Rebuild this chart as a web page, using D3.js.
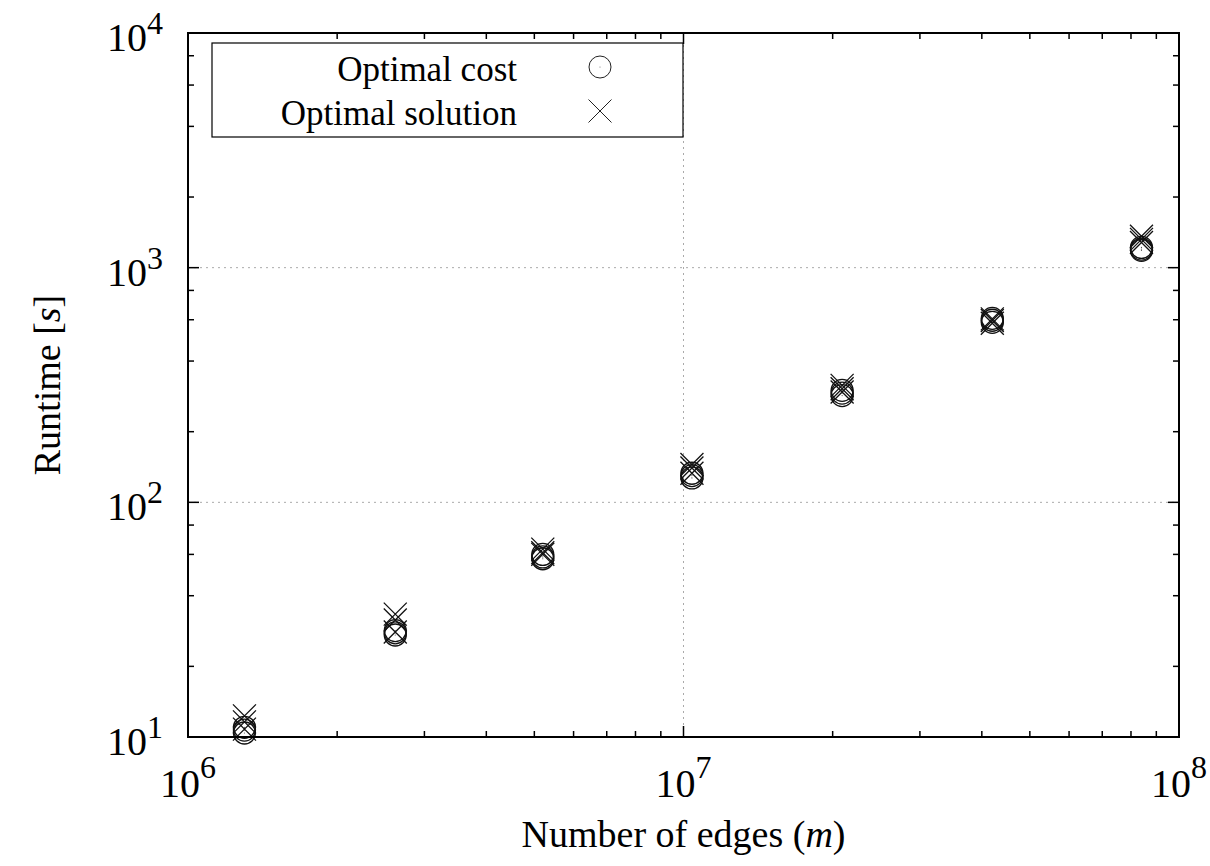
<!DOCTYPE html>
<html><head><meta charset="utf-8">
<script src="https://cdn.jsdelivr.net/npm/d3@7/dist/d3.min.js"></script>
<style>
html,body{margin:0;padding:0;background:#fff;}
svg{display:block;font-family:"Liberation Serif","Times New Roman",serif;}
</style></head>
<body>
<svg id="chart" width="1210" height="866"></svg>
<script>
// ---- data ----
const edges = [1.30e6, 2.62e6, 5.20e6, 1.04e7, 2.09e7, 4.20e7, 8.40e7];
// several runs per instance (overlapping markers)
const costRun1 = [10.4, 27.2, 57.5, 127, 285, 585, 1185];
const costRun2 = [10.7, 27.8, 58.5, 130, 292, 597, 1200];
const costRun3 = [11.0, 28.4, 60.0, 133, 300, 608, 1220];
const solRun1  = [10.8, 28.0, 60.0, 133, 295, 580, 1280];
const solRun2  = [11.6, 31.5, 61.0, 140, 305, 595, 1320];
const solRun3  = [12.3, 33.4, 63.2, 145, 315, 605, 1360];
const xMajor = [1e6, 1e7, 1e8];
const yMajor = [1e1, 1e2, 1e3, 1e4];
const xExp = ["6", "7", "8"];
const yExp = ["1", "2", "3", "4"];
const legendLabels = ["Optimal cost", "Optimal solution"];

// ---- layout ----
const svg = d3.select("#chart");
const L = 188, R = 1179, T = 33, B = 737;
const x = d3.scaleLog().domain([1e6, 1e8]).range([L, R]);
const y = d3.scaleLog().domain([1e1, 1e4]).range([B, T]);

// gridlines (dotted) at interior majors
const g = svg.append("g");
g.selectAll("line.gx").data(xMajor.filter(v => v > 1e6 && v < 1e8)).enter().append("line")
  .attr("x1", d => x(d)).attr("x2", d => x(d)).attr("y1", T).attr("y2", B)
  .attr("stroke", "#aaa").attr("stroke-width", 1).attr("stroke-dasharray", "2,4");
g.selectAll("line.gy").data(yMajor.filter(v => v > 1e1 && v < 1e4)).enter().append("line")
  .attr("y1", d => y(d)).attr("y2", d => y(d)).attr("x1", L).attr("x2", R)
  .attr("stroke", "#aaa").attr("stroke-width", 1).attr("stroke-dasharray", "2,4");

// minor ticks
const xMinor = [];
[1e6, 1e7].forEach(b => { for (let k = 2; k <= 9; k++) xMinor.push(b * k); });
const yMinor = [];
[1e1, 1e2, 1e3].forEach(b => { [2, 4, 6, 8].forEach(k => yMinor.push(b * k)); });

const axisG = svg.append("g");
function drawTicks(list, len) {
  list.forEach(v => {
    const px = x(v);
    axisG.append("line").attr("x1", px).attr("x2", px).attr("y1", B).attr("y2", B - len).attr("stroke", "#000").attr("stroke-width", 1.5);
    axisG.append("line").attr("x1", px).attr("x2", px).attr("y1", T).attr("y2", T + len).attr("stroke", "#000").attr("stroke-width", 1.5);
  });
}
function drawYTicks(list, len) {
  list.forEach(v => {
    const py = y(v);
    axisG.append("line").attr("x1", L).attr("x2", L + len).attr("y1", py).attr("y2", py).attr("stroke", "#000").attr("stroke-width", 1.5);
    axisG.append("line").attr("x1", R).attr("x2", R - len).attr("y1", py).attr("y2", py).attr("stroke", "#000").attr("stroke-width", 1.5);
  });
}
drawTicks(xMinor, 6);
drawTicks(xMajor, 11);
drawYTicks(yMinor, 6);
drawYTicks(yMajor, 11);

// tick labels
xMajor.forEach((v, i) => {
  const t = svg.append("text").attr("x", x(v)).attr("y", 797).attr("text-anchor", "middle").attr("font-size", 40).attr("fill", "#000");
  t.append("tspan").text("10");
  t.append("tspan").attr("dy", -19).attr("font-size", 32).text(xExp[i]);
});
yMajor.forEach((v, i) => {
  const t = svg.append("text").attr("x", 163).attr("y", y(v) + 18).attr("text-anchor", "end").attr("font-size", 40).attr("fill", "#000");
  t.append("tspan").text("10");
  t.append("tspan").attr("dy", -17).attr("font-size", 32).text(yExp[i]);
});

// axis titles
const xt = svg.append("text").attr("x", (L + R) / 2).attr("y", 847).attr("text-anchor", "middle").attr("font-size", 38);
xt.append("tspan").text("Number of edges (");
xt.append("tspan").attr("font-style", "italic").text("m");
xt.append("tspan").text(")");
const yt = svg.append("text").attr("transform", `translate(60,${(T + B) / 2}) rotate(-90)`).attr("text-anchor", "middle").attr("font-size", 38);
yt.append("tspan").text("Runtime [");
yt.append("tspan").attr("font-style", "italic").text("s");
yt.append("tspan").text("]");

// data markers
const mk = svg.append("g");
const R0 = 11;
function circles(vals) {
  vals.forEach((v, i) => {
    mk.append("circle").attr("cx", x(edges[i])).attr("cy", y(v)).attr("r", R0)
      .attr("fill", "none").attr("stroke", "#111").attr("stroke-width", 1.3);
    mk.append("circle").attr("cx", x(edges[i])).attr("cy", y(v)).attr("r", 0.6).attr("fill", "#555");
  });
}
function crosses(vals) {
  vals.forEach((v, i) => {
    const cx = x(edges[i]), cy = y(v), s = 11.5;
    mk.append("path").attr("d", `M${cx - s},${cy - s}L${cx + s},${cy + s}M${cx - s},${cy + s}L${cx + s},${cy - s}`)
      .attr("stroke", "#111").attr("stroke-width", 1.3).attr("fill", "none");
  });
}
[costRun1, costRun2, costRun3].forEach(circles);
[solRun1, solRun2, solRun3].forEach(crosses);

// legend
const lg = svg.append("g");
lg.append("rect").attr("x", 212).attr("y", 43).attr("width", 471).attr("height", 94)
  .attr("fill", "#fff").attr("stroke", "#000").attr("stroke-width", 1.2);
legendLabels.forEach((lab, i) => {
  const cy = 67 + i * 44;
  lg.append("text").attr("x", 517).attr("y", cy + 14).attr("text-anchor", "end").attr("font-size", 35).text(lab);
  if (i === 0) {
    lg.append("circle").attr("cx", 600).attr("cy", cy).attr("r", R0).attr("fill", "none").attr("stroke", "#222").attr("stroke-width", 1);
    lg.append("circle").attr("cx", 600).attr("cy", cy).attr("r", 0.6).attr("fill", "#777");
  } else {
    const s = 11.5;
    lg.append("path").attr("d", `M${600 - s},${cy - s}L${600 + s},${cy + s}M${600 - s},${cy + s}L${600 + s},${cy - s}`)
      .attr("stroke", "#222").attr("stroke-width", 1).attr("fill", "none");
  }
});

// frame (drawn on top)
svg.append("rect").attr("x", L).attr("y", T).attr("width", R - L).attr("height", B - T)
  .attr("fill", "none").attr("stroke", "#000").attr("stroke-width", 2);
</script>
</body></html>
